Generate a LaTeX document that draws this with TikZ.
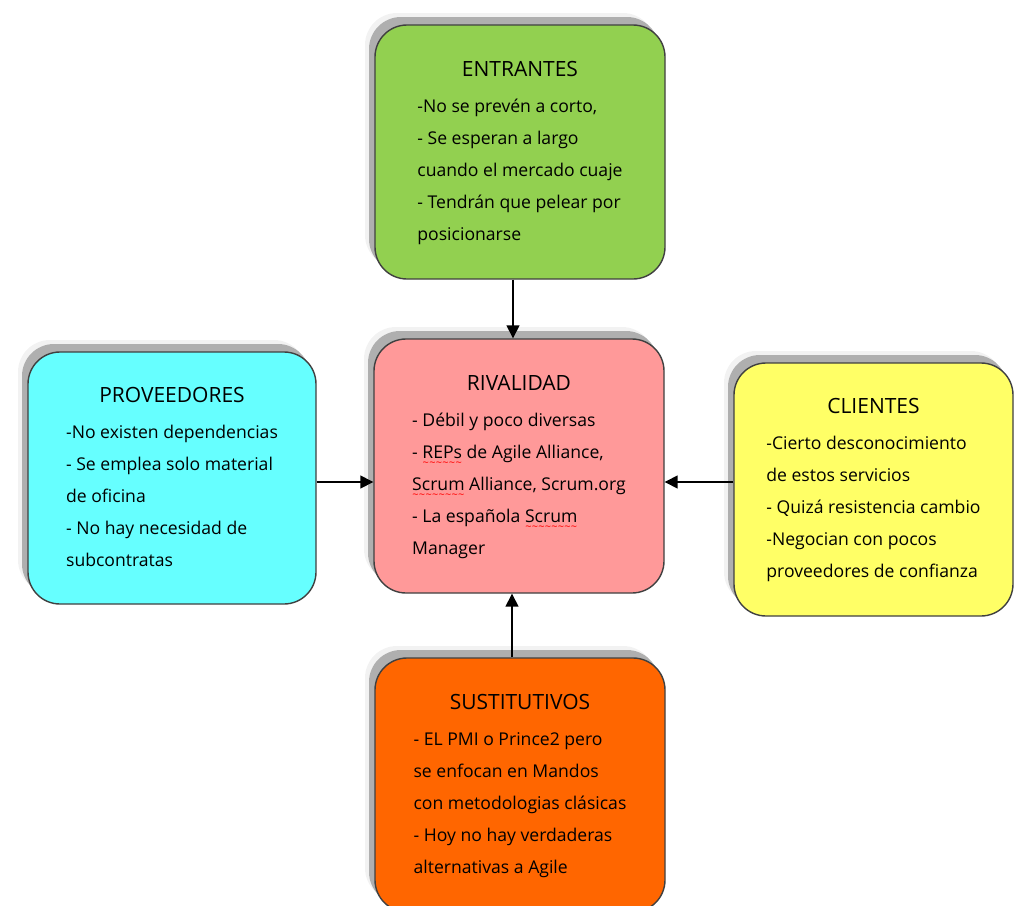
\documentclass[tikz,border=0pt]{standalone}
\usepackage{fontspec}
\setmainfont{Open Sans}
\usetikzlibrary{arrows.meta,shadows}

\definecolor{entgreen}{RGB}{146,208,80}
\definecolor{rivpink}{RGB}{255,153,153}
\definecolor{provcyan}{RGB}{102,255,255}
\definecolor{cliyellow}{RGB}{255,255,102}
\definecolor{susorange}{RGB}{255,102,0}

\newcommand\spellwave[1]{\setbox0\hbox{#1}\rlap{\raisebox{-4.2pt}[0pt][0pt]{\color{red}\fontsize{5.5}{6}\selectfont\hbox to\wd0{\xleaders\hbox{\char"7E}\hfil}}}\box0\relax}
\newcommand\boxtext[2]{\fontsize{8.8}{16}\selectfont\begin{tabular}{@{}l@{}}\multicolumn{1}{@{}c@{}}{\fontsize{10.5}{12}\selectfont #1}\\[2pt]#2\end{tabular}}

\begin{document}
\begin{tikzpicture}[
    x=0.5pt,y=-0.5pt,
    force/.style={draw=black!75,line width=0.7pt,rounded corners=16pt,inner sep=0pt,
                  minimum width=145pt,minimum height=127pt,
                  drop shadow={shadow xshift=-5pt,shadow yshift=6pt,fill=black,opacity=0.05},
                  drop shadow={shadow xshift=-3pt,shadow yshift=4pt,fill=black,opacity=0.28}},
    flow/.style={-{Triangle[length=6.5pt,width=6.5pt]},line width=0.75pt}
]
\useasboundingbox (0,0) rectangle (1014,906);
\node[force,fill=entgreen] (ent) at (520,152) {\boxtext{ENTRANTES}{-No se prevén a corto,\\- Se esperan a largo\\cuando el mercado cuaje\\- Tendrán que pelear por\\posicionarse}};
\node[force,fill=rivpink] (riv) at (519,466) {\boxtext{RIVALIDAD}{- Débil y poco diversas\\- \spellwave{REPs} de Agile Alliance,\\\spellwave{Scrum} Alliance, Scrum.org\\- La española \spellwave{Scrum}\\Manager}};
\node[force,fill=provcyan,minimum width=144pt,minimum height=126pt] (prov) at (172,478) {\boxtext{PROVEEDORES}{-No existen dependencias\\- Se emplea solo material\\de oficina\\- No hay necesidad de\\subcontratas}};
\node[force,fill=cliyellow,minimum width=139.5pt,minimum height=126.5pt] (cli) at (873.5,489.5) {\boxtext{CLIENTES}{-Cierto desconocimiento\\de estos servicios\\- Quizá resistencia cambio\\-Negocian con pocos\\proveedores de confianza}};
\node[force,fill=susorange] (sus) at (520,785) {\boxtext{SUSTITUTIVOS}{- EL PMI o Prince2 pero\\se enfocan en Mandos\\con metodologias clásicas\\- Hoy no hay verdaderas\\alternativas a Agile}};
\draw[flow] ([xshift=-3.5pt]ent.south)--([xshift=-3pt]riv.north);
\draw[flow] ([xshift=-4pt]sus.north)--([xshift=-3.5pt]riv.south);
\draw[flow] ([yshift=-2pt]prov.east)--([yshift=-8pt]riv.west);
\draw[flow] ([yshift=3.75pt]cli.west)--([yshift=-8pt]riv.east);
\end{tikzpicture}
\end{document}
